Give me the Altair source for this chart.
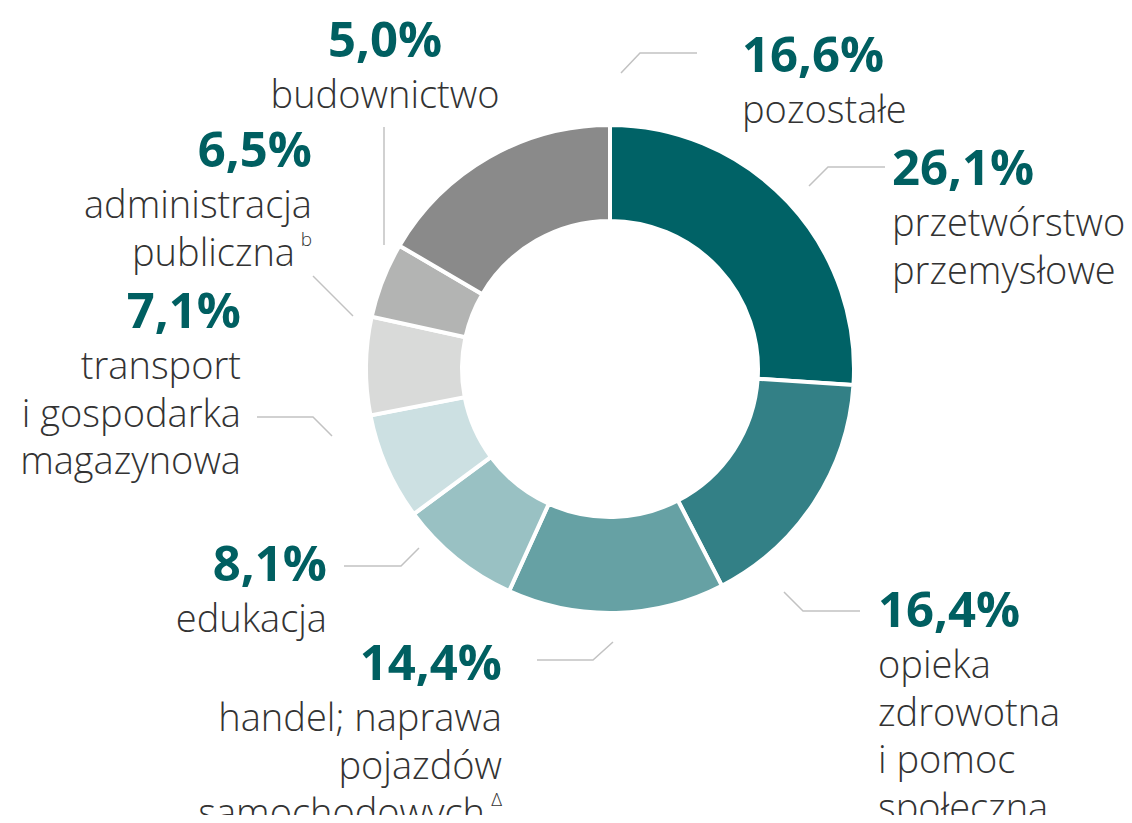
import altair as alt
import pandas as pd

# ---- data ----
categories = [
    "przetwórstwo przemysłowe",
    "opieka zdrowotna i pomoc społeczna",
    "handel; naprawa pojazdów samochodowych",
    "edukacja",
    "transport i gospodarka magazynowa",
    "administracja publiczna",
    "budownictwo",
    "pozostałe",
]
values = [26.1, 16.4, 14.4, 8.1, 7.1, 6.5, 5.0, 16.6]
label_lines = [
    ["przetwórstwo", "przemysłowe"],
    ["opieka", "zdrowotna", "i pomoc", "społeczna"],
    ["handel; naprawa", "pojazdów", "samochodowych"],
    ["edukacja"],
    ["transport", "i gospodarka", "magazynowa"],
    ["administracja", "publiczna"],
    ["budownictwo"],
    ["pozostałe"],
]
footnote_marks = ["", "", "Δ", "", "", "b", "", ""]

# ---- style / layout ----
colors = ["#006266", "#338086", "#66a1a4", "#99c1c3", "#cce0e2", "#d9dad9", "#b3b4b3", "#8a8a8a"]
PCT_COLOR = "#005f61"
TXT_COLOR = "#333333"
LINE_COLOR = "#c2c2c2"
FONT = "Open Sans"
OFF = 8  # page margin

W, H = 1116, 807
CX, CY = 610 - OFF, 369 - OFF

# label anchor: (x, percent baseline y, align) in page coordinates
anchors = [
    (892, 185, "left"),
    (878, 627, "left"),
    (502, 680, "right"),
    (327, 581, "right"),
    (241, 328, "right"),
    (312, 167, "right"),
    (385, 57, "center"),
    (742, 72, "left"),
]
FIRST_LINE_GAP = 51
LINE_H = 47.5
FOOTNOTE_SHIFT = 17
FOOTNOTE_RISE = 20

leaders = [
    [(809, 186), (828, 167), (885, 167)],
    [(784, 592), (803, 611), (860, 611)],
    [(613, 642), (593, 660), (537, 660)],
    [(419, 548), (401, 566), (344, 566)],
    [(332, 436), (313, 417), (257, 417)],
    [(353, 316), (313, 276)],
    [(384, 245), (384, 127)],
    [(621, 73), (640, 53), (697, 53)],
]


def pct(v):
    return f"{v:.1f}".replace(".", ",") + "%"


arc_df = pd.DataFrame({"category": categories, "value": values, "idx": range(len(values))})

arcs = alt.Chart(arc_df).mark_arc(
    outerRadius=244, innerRadius=148, stroke="white", strokeWidth=4
).encode(
    theta=alt.Theta("value:Q", stack=True),
    order=alt.Order("idx:Q"),
    color=alt.Color("category:N", scale=alt.Scale(domain=categories, range=colors), legend=None),
    x=alt.value(CX),
    y=alt.value(CY),
)

layers = [arcs]

# leader lines
lead_rows = []
for i, pts in enumerate(leaders):
    for j, (px, py) in enumerate(pts):
        lead_rows.append({"category": categories[i], "k": j, "px": px - OFF, "py": py - OFF})
lines = alt.Chart(pd.DataFrame(lead_rows)).mark_line(color=LINE_COLOR, strokeWidth=1.5).encode(
    x=alt.X("px:Q", scale=None, axis=None),
    y=alt.Y("py:Q", scale=None, axis=None),
    detail="category:N",
    order="k:Q",
)
layers.append(lines)

fn_rows = []
for align in ["left", "right", "center"]:
    prow, lrow = [], []
    for i, (ax, ay, al) in enumerate(anchors):
        if al != align:
            continue
        prow.append({"pct": pct(values[i]), "px": ax - OFF, "py": ay - OFF})
        n = len(label_lines[i])
        for k, line in enumerate(label_lines[i]):
            x = ax - OFF
            y = ay - OFF + FIRST_LINE_GAP + k * LINE_H
            if k == n - 1 and footnote_marks[i]:
                fn_rows.append({"mark": footnote_marks[i], "px": x, "py": y - FOOTNOTE_RISE})
                x -= FOOTNOTE_SHIFT
            lrow.append({"txt": line, "px": x, "py": y})
    layers.append(
        alt.Chart(pd.DataFrame(prow)).mark_text(
            align=align, baseline="alphabetic", font=FONT, fontSize=49,
            fontWeight="bold", color=PCT_COLOR,
        ).encode(
            x=alt.X("px:Q", scale=None, axis=None),
            y=alt.Y("py:Q", scale=None, axis=None),
            text="pct:N",
        )
    )
    layers.append(
        alt.Chart(pd.DataFrame(lrow)).mark_text(
            align=align, baseline="alphabetic", font=FONT, fontSize=38,
            fontWeight=300, color=TXT_COLOR,
        ).encode(
            x=alt.X("px:Q", scale=None, axis=None),
            y=alt.Y("py:Q", scale=None, axis=None),
            text="txt:N",
        )
    )

layers.append(
    alt.Chart(pd.DataFrame(fn_rows)).mark_text(
        align="right", baseline="alphabetic", font=FONT, fontSize=19,
        fontWeight=300, color=TXT_COLOR,
    ).encode(
        x=alt.X("px:Q", scale=None, axis=None),
        y=alt.Y("py:Q", scale=None, axis=None),
        text="mark:N",
    )
)

chart = alt.layer(*layers).properties(
    width=W, height=H, autosize=alt.AutoSizeParams(type="none"), padding=0
).configure_view(stroke=None)

chart.save("out.html", embed_options={"renderer": "svg", "actions": False})
